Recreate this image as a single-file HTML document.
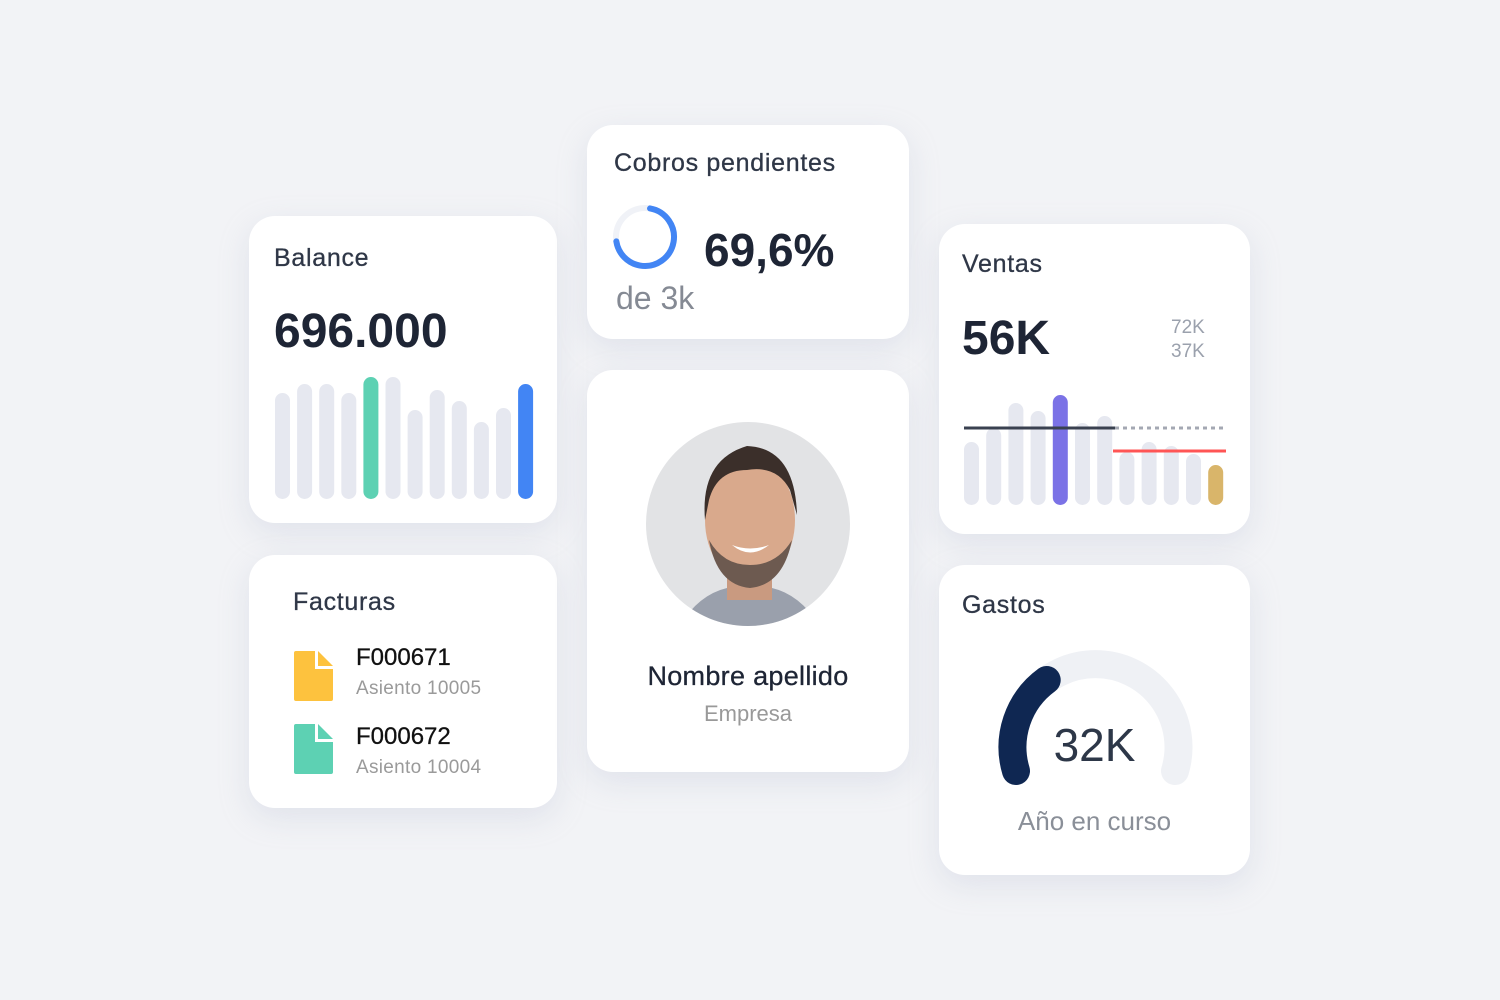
<!DOCTYPE html>
<html><head><meta charset="utf-8"><style>
body{margin:0;width:1500px;height:1000px;background:#f2f3f6;font-family:"Liberation Sans",sans-serif;position:relative;overflow:hidden}
.card{position:absolute;background:#fff;border-radius:26px;box-shadow:0 10px 30px rgba(170,180,205,0.25)}
.t{position:absolute;font-size:25px;color:#2f3747;letter-spacing:0.7px;-webkit-text-stroke:0.3px #2f3747}
.big{position:absolute;font-weight:bold;color:#1e2535}
svg{position:absolute;left:0;top:0}
</style></head><body>
<div class="card" style="left:249px;top:216px;width:308px;height:307px">
 <div class="t" style="left:25px;top:28px">Balance</div>
 <div class="big" style="left:25px;top:88px;font-size:48px">696.000</div>
 <svg id="bal" width="308" height="307"></svg>
</div>
<div class="card" style="left:249px;top:555px;width:308px;height:253px">
 <div class="t" style="left:44px;top:33px">Facturas</div>
 <svg width="308" height="253">
  <path d="M47 96 h19 v18 h18 v30 a2 2 0 0 1 -2 2 h-35 a2 2 0 0 1 -2 -2 v-46 a2 2 0 0 1 2 -2z" fill="#fdc23e"/>
  <path d="M69 96 l15 15 h-15z" fill="#fdc23e"/>
  <path d="M47 169 h19 v18 h18 v30 a2 2 0 0 1 -2 2 h-35 a2 2 0 0 1 -2 -2 v-46 a2 2 0 0 1 2 -2z" fill="#5dd1b3"/>
  <path d="M69 169 l15 15 h-15z" fill="#5dd1b3"/>
 </svg>
 <div style="position:absolute;left:107px;top:89px;font-size:24px;color:#111;-webkit-text-stroke:0.3px #111">F000671</div>
 <div style="position:absolute;left:107px;top:123px;font-size:19px;color:#9a9a9a;letter-spacing:0.3px">Asiento 10005</div>
 <div style="position:absolute;left:107px;top:168px;font-size:24px;color:#111;-webkit-text-stroke:0.3px #111">F000672</div>
 <div style="position:absolute;left:107px;top:202px;font-size:19px;color:#9a9a9a;letter-spacing:0.3px">Asiento 10004</div>
</div>
<div class="card" style="left:587px;top:125px;width:322px;height:214px">
 <div class="t" style="left:27px;top:24px">Cobros pendientes</div>
 <svg width="322" height="214">
  <circle cx="58" cy="112" r="29" fill="none" stroke="#f0f2f7" stroke-width="6"/>
  <circle cx="58" cy="112" r="29" fill="none" stroke="#4285f4" stroke-width="6" stroke-linecap="round" stroke-dasharray="127 200" transform="rotate(-80 58 112)"/>
 </svg>
 <div class="big" style="left:117px;top:98px;font-size:46px">69,6%</div>
 <div style="position:absolute;left:29px;top:155px;font-size:32px;color:#858a94">de 3k</div>
</div>
<div class="card" style="left:587px;top:370px;width:322px;height:402px">
 <svg width="322" height="402">
  <defs><clipPath id="cp"><circle cx="161" cy="154" r="102"/></clipPath></defs>
  <g clip-path="url(#cp)">
   <rect x="50" y="40" width="230" height="230" fill="#e2e3e5"/>
   <path d="M90 260 Q110 225 140 218 L185 218 Q215 225 235 260z" fill="#9aa0ac"/>
   <rect x="140" y="190" width="45" height="40" fill="#c99a80"/>
   <ellipse cx="163" cy="150" rx="45" ry="62" fill="#d9a98c"/>
   <path d="M118 150 Q113 90 160 76 Q208 78 210 145 L203 120 Q190 95 160 100 Q130 100 122 130z" fill="#3b2f2a"/>
   <path d="M122 170 Q130 215 163 218 Q196 215 205 170 Q190 195 163 195 Q136 195 122 170z" fill="#6d5a50"/>
   <path d="M145 175 Q163 190 182 175 Q163 182 145 175z" fill="#fff"/>
  </g>
 </svg>
 <div style="position:absolute;left:0;width:322px;text-align:center;top:291px;font-size:27px;color:#1e2535;letter-spacing:0.3px;-webkit-text-stroke:0.3px #1e2535">Nombre apellido</div>
 <div style="position:absolute;left:0;width:322px;text-align:center;top:331px;font-size:22px;color:#999">Empresa</div>
</div>
<div class="card" style="left:939px;top:224px;width:311px;height:310px">
 <div class="t" style="left:23px;top:26px">Ventas</div>
 <div class="big" style="left:23px;top:87px;font-size:48px">56K</div>
 <div style="position:absolute;left:232px;top:92px;font-size:19px;color:#9ba1ad;line-height:24px">72K<br>37K</div>
 <svg id="ven" width="311" height="310"></svg>
</div>
<div class="card" style="left:939px;top:565px;width:311px;height:310px">
 <div class="t" style="left:23px;top:26px">Gastos</div>
 <svg width="311" height="310">
  <path d="M77 206 A83 83 0 1 1 236 206" fill="none" stroke="#eff1f5" stroke-width="28" stroke-linecap="round"/>
  <path d="M77 206 A83 83 0 0 1 107.7 115" fill="none" stroke="#0f2752" stroke-width="28" stroke-linecap="round"/>
 </svg>
 <div style="position:absolute;left:0;width:311px;text-align:center;top:153px;font-size:46px;color:#2d3748">32K</div>
 <div style="position:absolute;left:0;width:311px;text-align:center;top:241px;font-size:26px;color:#8a8f98">Año en curso</div>
</div>
<script>
const NS='http://www.w3.org/2000/svg';
const balanceValues=[106,115,115,106,122,122,89,109,98,77,91,115];
const balanceColors=['#e6e8f0','#e6e8f0','#e6e8f0','#e6e8f0','#5dd1b3','#e6e8f0','#e6e8f0','#e6e8f0','#e6e8f0','#e6e8f0','#e6e8f0','#4285f4'];
const ventasValues=[63,77,102,94,110,82,89,53,63,59,51];
const ventasHighlight=[0,0,0,0,1,0,0,0,0,0,0];
const ventasLast=[40];
const ventasAvgPrev=[77];
const ventasAvgNext=[54];
function bars(svg,vals,colors,x0,pitch,base,w){
  vals.forEach((v,i)=>{
    const r=document.createElementNS(NS,'rect');
    
    
    r.setAttribute('x',x0+i*pitch);r.setAttribute('y',base-v);
    r.setAttribute('width',w);r.setAttribute('height',v);
    r.setAttribute('rx',w/2);r.setAttribute('fill',colors[i]);
    svg.appendChild(r);
  });
}
bars(document.getElementById('bal'),balanceValues,balanceColors,26,22.1,283,15);
const ven=document.getElementById('ven');
const vbase=281;
const vcols=ventasValues.map((v,i)=>ventasHighlight[i]?'#7b72e6':'#e6e8f0');
bars(ven,ventasValues.concat(ventasLast),vcols.concat(['#d9b56a']),25,22.2,vbase,15);
function line(x1,x2,y,col,dash,name){
  const l=document.createElementNS(NS,'line');
  
  
  l.setAttribute('x1',x1);l.setAttribute('x2',x2);l.setAttribute('y1',y);l.setAttribute('y2',y);
  l.setAttribute('stroke',col);l.setAttribute('stroke-width',3);
  if(dash)l.setAttribute('stroke-dasharray',dash);
  ven.appendChild(l);
}
line(25,176,vbase-ventasAvgPrev[0],'#3a4150',null,'avg-line-past');
line(176,287,vbase-ventasAvgPrev[0],'#a4a8b3','4 4','avg-line-projection');
line(174,287,vbase-ventasAvgNext[0],'#ff5555',null,'target-line');
</script>
</body></html>
